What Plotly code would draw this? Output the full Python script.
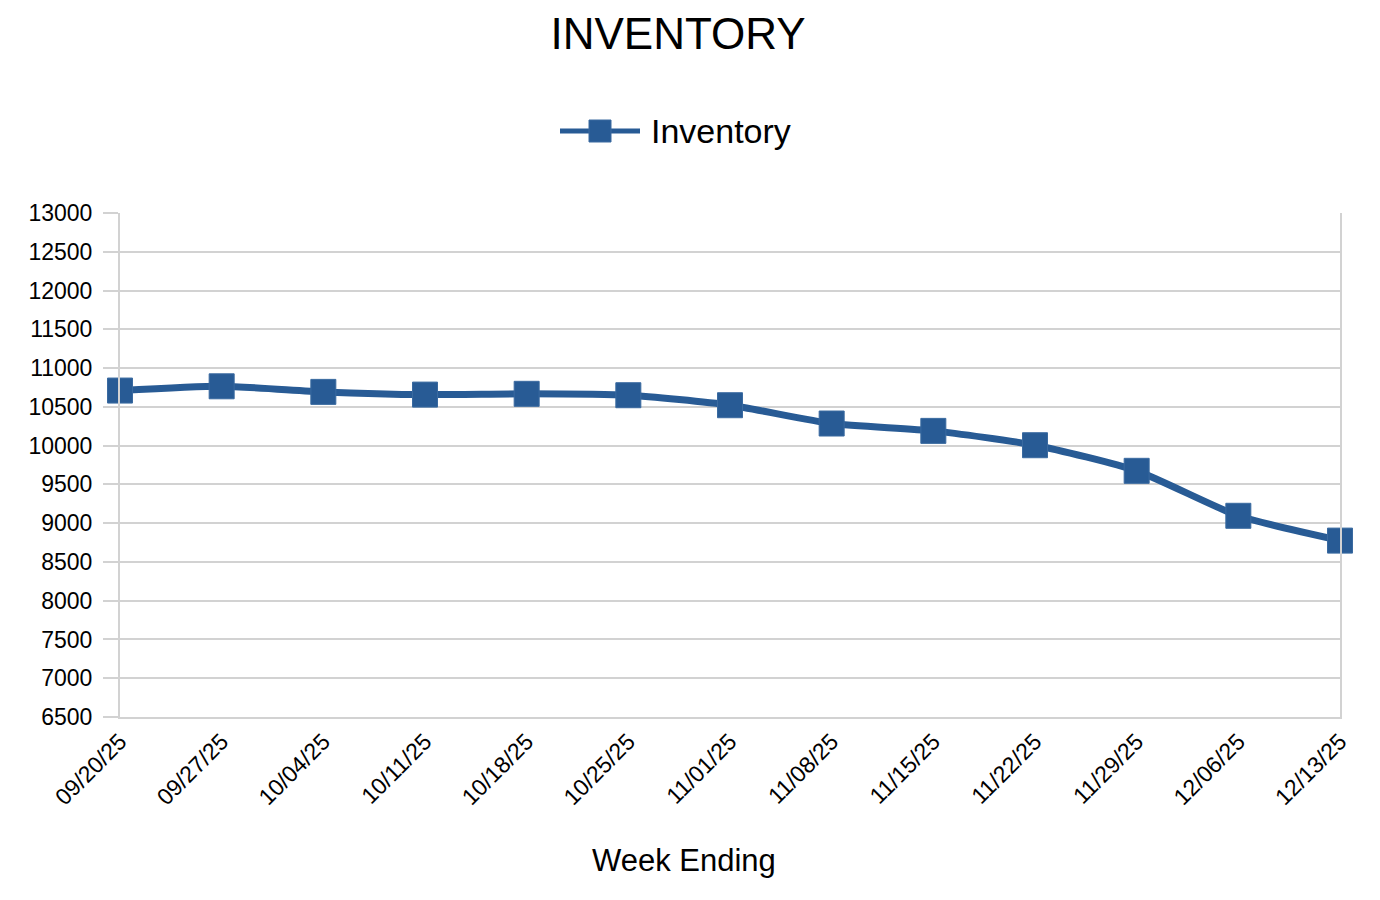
import plotly.graph_objects as go

weeks = ["09/20/25", "09/27/25", "10/04/25", "10/11/25", "10/18/25", "10/25/25",
         "11/01/25", "11/08/25", "11/15/25", "11/22/25", "11/29/25", "12/06/25", "12/13/25"]
inventory = [10710, 10765, 10693, 10658, 10668, 10650, 10521, 10285, 10190, 10005, 9675, 9095, 8775]
y_ticks = [6500, 7000, 7500, 8000, 8500, 9000, 9500, 10000, 10500, 11000, 11500, 12000, 12500, 13000]
series_name = "Inventory"

FONT = "Liberation Sans, Arial, sans-serif"
BLUE = "#285b95"
GRID = "#d2d2d2"

# page body has an 8px margin; figure size/margins compensate
W, H = 1372, 892
L, R, T, B = 112, 40, 205, 183
PX0, PX1 = 120, 1340   # plot area on screen (x)
PY0, PY1 = 213, 717    # plot area on screen (y top, bottom)


def px_x(px):
    return (px - PX0) / (PX1 - PX0)


def px_y(py):
    return (PY1 - py) / (PY1 - PY0)


fig = go.Figure()
fig.add_trace(go.Scatter(
    x=weeks, y=inventory, name=series_name, mode="lines+markers",
    line=dict(color=BLUE, width=7, shape="spline", smoothing=0.6),
    marker=dict(symbol="square", size=25, color=BLUE, line=dict(color="#3a6aa0", width=1)),
    cliponaxis=False, showlegend=False,
))

# legend drawn manually (long line sample like the reference)
leg_y = px_y(131)
fig.add_shape(type="line", xref="paper", yref="paper",
              x0=px_x(560), x1=px_x(640), y0=leg_y, y1=leg_y,
              line=dict(color=BLUE, width=5))
fig.add_shape(type="rect", xref="paper", yref="paper",
              x0=px_x(589), x1=px_x(611), y0=px_y(142), y1=px_y(120),
              fillcolor=BLUE, line=dict(color="#3a6aa0", width=1))
fig.add_annotation(text=series_name, xref="paper", yref="paper",
                   x=px_x(649), y=leg_y, xanchor="left", yanchor="middle",
                   showarrow=False, font=dict(size=34, family=FONT, color="black"))

# x-axis title
fig.add_annotation(text="Week Ending", xref="paper", yref="paper",
                   x=px_x(684), y=px_y(861), xanchor="center", yanchor="middle",
                   showarrow=False, font=dict(size=31, family=FONT, color="black"))

fig.update_layout(
    width=W, height=H,
    paper_bgcolor="white", plot_bgcolor="white",
    margin=dict(l=L, r=R, t=T, b=B, autoexpand=False),
    font=dict(family=FONT, color="black"),
    title=dict(text="INVENTORY", x=(678 - 8) / W, xanchor="center", xref="container",
               y=1 - (34 - 8) / H, yanchor="middle", yref="container",
               font=dict(size=44, family=FONT, color="black")),
    showlegend=False,
    xaxis=dict(
        type="category", range=[0, len(weeks) - 1],
        showgrid=False, showline=True, linecolor=GRID, linewidth=2,
        ticks="", tickangle=-45, tickfont=dict(size=23, family=FONT, color="black"),
        zeroline=False,
    ),
    yaxis=dict(
        range=[6500, 13000], tickvals=y_ticks, ticktext=[str(v) for v in y_ticks],
        showgrid=True, gridcolor=GRID, gridwidth=2,
        showline=True, linecolor=GRID, linewidth=2, mirror=True,
        ticks="outside", ticklen=15, tickcolor=GRID, tickwidth=2,
        ticklabelstandoff=6,
        tickfont=dict(size=23, family=FONT, color="black"),
        zeroline=False,
    ),
)

fig.write_html("out.html")
